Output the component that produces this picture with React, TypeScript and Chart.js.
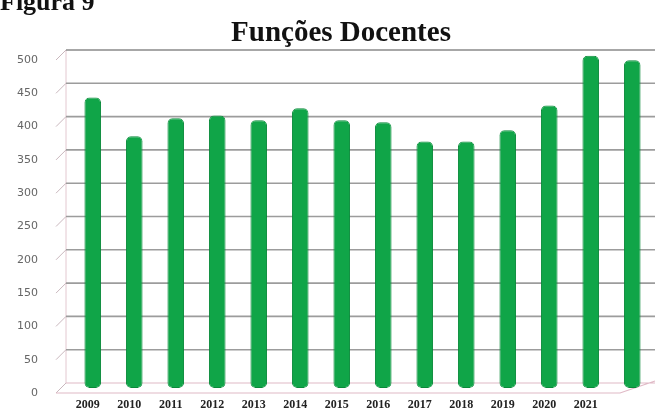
import React, { useEffect, useRef } from "react";
import { Chart, registerables } from "chart.js";

Chart.register(...registerables);

const categories = ["2009", "2010", "2011", "2012", "2013", "2014", "2015", "2016", "2017", "2018", "2019", "2020", "2021", ""];
const values = [436, 378, 405, 409, 402, 420, 402, 399, 370, 370, 387, 424, 499, 492];
const yTicks = [0, 50, 100, 150, 200, 250, 300, 350, 400, 450, 500];
const titleText = "Funções Docentes";
const figureText = "Figura 9";

const wallPlugin = {
  id: "wall3d",
  beforeDatasetsDraw(chart: any) {
    const { ctx, chartArea, scales } = chart;
    const y = scales.y;
    const left = chartArea.left - 6;
    const right = chartArea.right + 2;
    ctx.save();
    ctx.strokeStyle = "#e3c8d0";
    ctx.lineWidth = 1;
    ctx.beginPath();
    ctx.moveTo(left, y.getPixelForValue(500) - 5);
    ctx.lineTo(left, y.getPixelForValue(0) - 5);
    ctx.stroke();
    yTicks.forEach((v) => {
      const py = y.getPixelForValue(v) - 5;
      ctx.strokeStyle = "#c9b7bd";
      ctx.lineWidth = 1;
      ctx.beginPath();
      ctx.moveTo(left - 10, py + 10);
      ctx.lineTo(left, py);
      ctx.stroke();
      if (v > 0) {
        ctx.strokeStyle = v === 500 ? "#8a8a8a" : "#9c9c9c";
        ctx.lineWidth = 1.6;
        ctx.beginPath();
        ctx.moveTo(left, py);
        ctx.lineTo(right, py);
        ctx.stroke();
      }
    });
    const p0 = y.getPixelForValue(0);
    ctx.strokeStyle = "#e0b9c6";
    ctx.lineWidth = 1.2;
    ctx.beginPath();
    ctx.moveTo(left, p0 - 5);
    ctx.lineTo(right, p0 - 5);
    ctx.moveTo(left - 10, p0 + 5);
    ctx.lineTo(right - 35, p0 + 5);
    ctx.lineTo(right, p0 - 7);
    ctx.stroke();
    ctx.restore();
  },
};

export default function App() {
  const canvasRef = useRef<HTMLCanvasElement | null>(null);

  useEffect(() => {
    if (!canvasRef.current) return;
    const chart = new Chart(canvasRef.current, {
      type: "bar",
      data: {
        labels: categories,
        datasets: [
          {
            data: values,
            backgroundColor: "#10a548",
            borderColor: "#0a8a3a",
            borderWidth: 1,
            borderRadius: 5,
            borderSkipped: false,
            barPercentage: 0.8,
            categoryPercentage: 0.5,
          },
        ],
      },
      plugins: [wallPlugin],
      options: {
        responsive: false,
        animation: false,
        layout: { padding: { left: 0, right: 11, top: 55, bottom: 0 } },
        plugins: {
          legend: { display: false },
          tooltip: { enabled: false },
          title: { display: false },
        },
        scales: {
          x: {
            afterFit: (scale: any) => {
              scale.height = 29;
            },
            grid: { display: false, drawTicks: false },
            border: { display: false },
            ticks: {
              color: "#222",
              font: { family: "Liberation Serif", size: 12, weight: "bold" },
              padding: 10,
              labelOffset: -5,
              autoSkip: false,
              maxRotation: 0,
            },
          },
          y: {
            min: 0,
            max: 500,
            afterFit: (scale: any) => {
              scale.width = 72;
              scale.paddingTop = 0;
              scale.paddingBottom = 0;
            },
            grid: { display: false, drawTicks: false },
            border: { display: false },
            ticks: {
              stepSize: 50,
              color: "#666",
              font: { family: "DejaVu Sans", size: 11 },
              padding: 34,
              labelOffset: 5,
            },
          },
        },
      },
    });
    return () => chart.destroy();
  }, []);

  return (
    <div style={{ position: "fixed", left: 0, top: 0, width: 664, height: 417, background: "#fff", overflow: "hidden" }}>
      <div
        style={{
          position: "absolute",
          left: 0,
          top: -11,
          fontFamily: "Liberation Serif",
          fontWeight: "bold",
          fontSize: 26,
          lineHeight: "26px",
          color: "#111",
          whiteSpace: "nowrap",
        }}
      >
        {figureText}
      </div>
      <div
        style={{
          position: "absolute",
          left: 0,
          width: 682,
          top: 14,
          textAlign: "center",
          fontFamily: "Liberation Serif",
          fontWeight: "bold",
          fontSize: 29,
          lineHeight: "34px",
          color: "#111",
          whiteSpace: "nowrap",
        }}
      >
        {titleText}
      </div>
      <canvas ref={canvasRef} width={664} height={417} style={{ display: "block" }} />
    </div>
  );
}
